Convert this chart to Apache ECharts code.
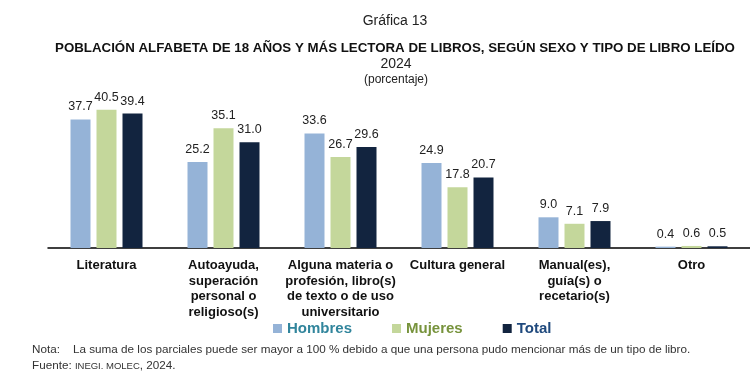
<!DOCTYPE html>
<html>
<head>
<meta charset="utf-8">
<script src="https://cdn.jsdelivr.net/npm/echarts@6/dist/echarts.min.js"></script>
<style>html,body{margin:0;padding:0;background:#fff;}#c{width:750px;height:383px;}</style>
</head>
<body>
<div id="c"></div>
<script>
const categories = [
  "Literatura",
  "Autoayuda,\nsuperación\npersonal o\nreligioso(s)",
  "Alguna materia o\nprofesión, libro(s)\nde texto o de uso\nuniversitario",
  "Cultura general",
  "Manual(es),\nguía(s) o\nrecetario(s)",
  "Otro"
];
const hombres = [37.7, 25.2, 33.6, 24.9, 9.0, 0.4];
const mujeres = [40.5, 35.1, 26.7, 17.8, 7.1, 0.6];
const total   = [39.4, 31.0, 29.6, 20.7, 7.9, 0.5];
const seriesNames = ["Hombres", "Mujeres", "Total"];

const FONT = '"Liberation Sans", Arial, sans-serif';
const chart = echarts.init(document.getElementById('c'));
const labelCfg = {
  show: true, position: 'top', distance: 6,
  fontFamily: FONT, fontSize: 12.5, color: '#222',
  formatter: p => p.value.toFixed(1)
};
function bar(name, data, color) {
  return {
    name, type: 'bar', data, barWidth: 20, barGap: '30%',
    itemStyle: { color }, label: labelCfg
  };
}
chart.setOption({
  animation: false,
  textStyle: { fontFamily: FONT },
  title: [
    { text: 'Gráfica 13', left: 390, top: 9, textAlign: 'center',
      textStyle: { fontFamily: FONT, fontSize: 14, fontWeight: 'normal', color: '#222' } },
    { text: 'POBLACIÓN ALFABETA DE 18 AÑOS Y MÁS LECTORA DE LIBROS, SEGÚN SEXO Y TIPO DE LIBRO LEÍDO', left: 390, top: 37, textAlign: 'center',
      textStyle: { fontFamily: FONT, fontSize: 13.3, fontWeight: 'bold', color: '#111' } },
    { text: '2024', left: 391, top: 52, textAlign: 'center',
      textStyle: { fontFamily: FONT, fontSize: 14, fontWeight: 'normal', color: '#222' } },
    { text: '(porcentaje)', left: 391, top: 69, textAlign: 'center',
      textStyle: { fontFamily: FONT, fontSize: 12, fontWeight: 'normal', color: '#222' } }
  ],
  legend: {
    left: 268, top: 316, icon: 'rect', itemWidth: 9, itemHeight: 9, itemGap: 40,
    textStyle: { fontFamily: FONT, fontSize: 15, fontWeight: 'bold' },
    data: [
      { name: seriesNames[0], textStyle: { color: '#31859c' } },
      { name: seriesNames[1], textStyle: { color: '#77933c' } },
      { name: seriesNames[2], textStyle: { color: '#1f497d' } }
    ]
  },
  grid: { left: 48, right: -2, top: 94.5, bottom: 135, containLabel: false },
  xAxis: {
    type: 'category', data: categories,
    axisLine: { lineStyle: { color: '#000', width: 1.5 } },
    axisTick: { show: false },
    axisLabel: { interval: 0, margin: 10, fontFamily: FONT, fontSize: 13, fontWeight: 'bold',
      color: '#111', lineHeight: 15.5 }
  },
  yAxis: { type: 'value', min: 0, max: 45, show: false, splitLine: { show: false } },
  series: [
    bar(seriesNames[0], hombres, '#95b3d7'),
    bar(seriesNames[1], mujeres, '#c4d79b'),
    bar(seriesNames[2], total, '#12243f')
  ],
  graphic: [
    { type: 'text', left: 32, top: 344, style: { text: 'Nota:', font: '11.7px ' + FONT, fill: '#333' } },
    { type: 'text', left: 73, top: 344, style: { text: 'La suma de los parciales puede ser mayor a 100 % debido a que una persona pudo mencionar más de un tipo de libro.', font: '11.7px ' + FONT, fill: '#333' } },
    { type: 'text', left: 32, top: 360, style: {
      text: '{a|Fuente: }{b|INEGI. MOLEC}{a|, 2024.}',
      rich: { a: { fontFamily: FONT, fontSize: 11.7, fill: '#333', color: '#333' },
              b: { fontFamily: FONT, fontSize: 9.5, fill: '#333', color: '#333' } }
    } }
  ]
});
</script>
</body>
</html>
